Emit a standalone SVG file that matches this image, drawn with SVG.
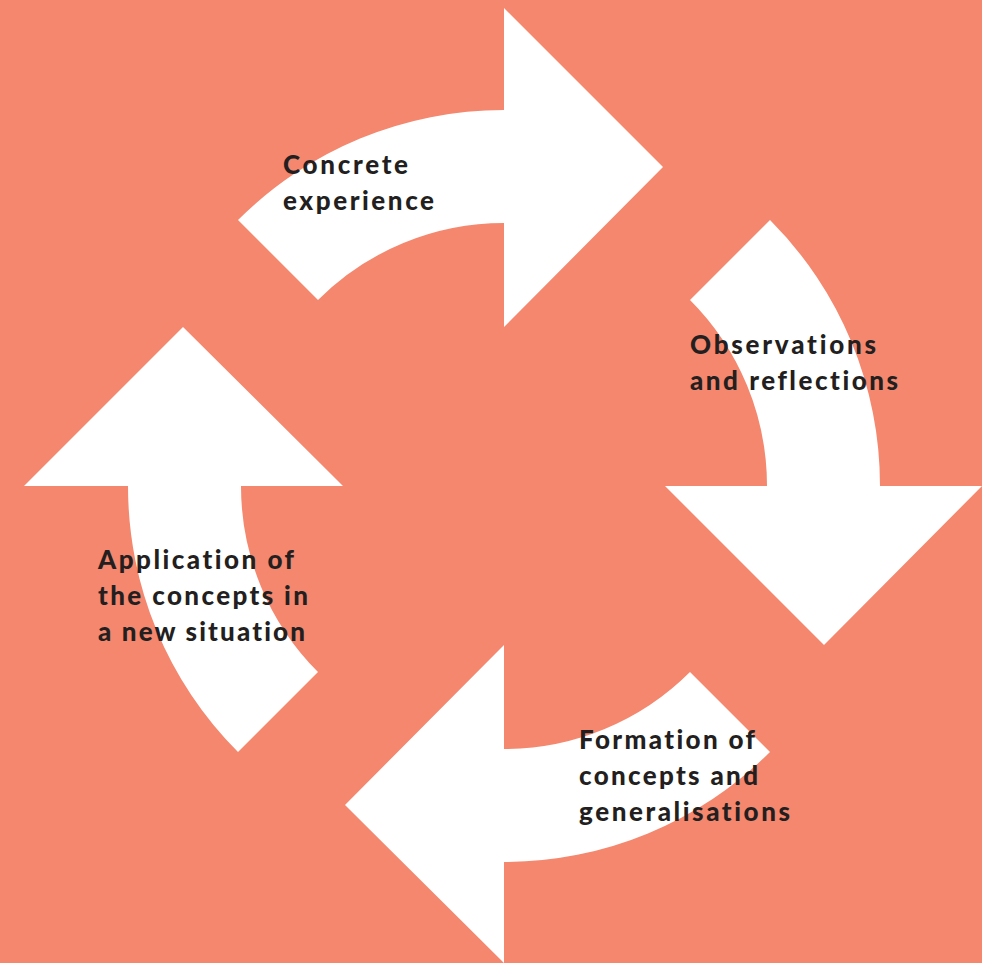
<svg xmlns="http://www.w3.org/2000/svg" width="982" height="963" viewBox="0 0 982 963">
<style>
.arrow{fill:#ffffff;stroke:none}
.lbl{font-family:"Lato","Open Sans","Liberation Sans",sans-serif;font-weight:900;font-size:26px;fill:#231f20;font-variant-ligatures:none}
</style>
<rect x="0" y="0" width="982" height="963" fill="#f4876d"/>
<g id="connectors">
<path id="arrow-top" class="arrow" d="M 238,220 A 376 376 0 0 1 504,110 L 504,8 L 663,167 L 504,327 L 504,223 A 263 263 0 0 0 318,300 Z"/>
<path id="arrow-right" class="arrow" d="M 770,220 A 376 376 0 0 1 880,486 L 982,486 L 824,645 L 665,486 L 767,486 A 263 263 0 0 0 690,300 Z"/>
<path id="arrow-bottom" class="arrow" d="M 770,752 A 376 376 0 0 1 504,862 L 504,963 L 345,805 L 504,645 L 504,749 A 263 263 0 0 0 690,672 Z"/>
<path id="arrow-left" class="arrow" d="M 238,752 A 376 376 0 0 1 128,486 L 24,486 L 183,327 L 343,486 L 241,486 A 263 263 0 0 0 318,672 Z"/>
</g>
<g id="node-concrete">
<text class="lbl" x="283" y="174" textLength="125" lengthAdjust="spacing">Concrete</text>
<text class="lbl" x="283" y="210" textLength="151" lengthAdjust="spacing">experience</text>
</g>
<g id="node-observations">
<text class="lbl" x="690" y="354" textLength="186" lengthAdjust="spacing">Observations</text>
<text class="lbl" x="690" y="390" textLength="208" lengthAdjust="spacing">and reflections</text>
</g>
<g id="node-formation">
<text class="lbl" x="579" y="749" textLength="176" lengthAdjust="spacing">Formation of</text>
<text class="lbl" x="579" y="785" textLength="179" lengthAdjust="spacing">concepts and</text>
<text class="lbl" x="579" y="821" textLength="211" lengthAdjust="spacing">generalisations</text>
</g>
<g id="node-application">
<text class="lbl" x="98" y="569" textLength="196" lengthAdjust="spacing">Application of</text>
<text class="lbl" x="98" y="605" textLength="210" lengthAdjust="spacing">the concepts in</text>
<text class="lbl" x="98" y="641" textLength="207" lengthAdjust="spacing">a new situation</text>
</g>
</svg>
